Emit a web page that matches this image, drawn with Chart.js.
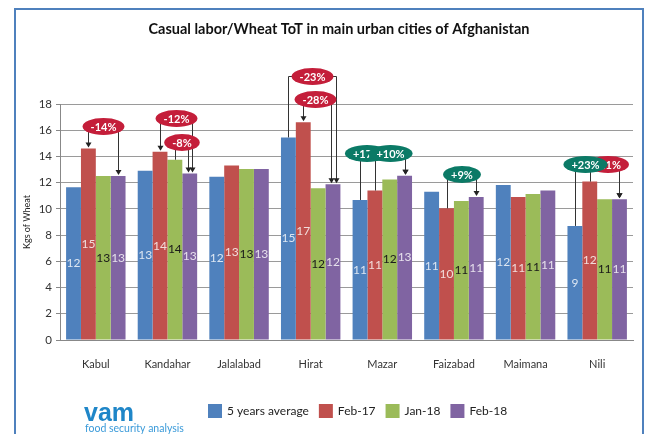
<!DOCTYPE html>
<html>
<head>
<meta charset="utf-8">
<script src="https://cdn.jsdelivr.net/npm/chart.js@4.4.1/dist/chart.umd.min.js"></script>
<style>
  html, body { margin: 0; padding: 0; background: #fff; }
  #wrap { position: relative; width: 648px; height: 434px; overflow: hidden; }
  #frame { position: absolute; left: 14px; top: 8px; width: 630px; height: 440px;
           border: 2px solid #4F81BD; box-sizing: border-box; }
  canvas { position: absolute; left: 0; top: 0; }
</style>
</head>
<body>
<div id="wrap">
  <div id="frame"></div>
  <canvas id="chart" width="648" height="434"></canvas>
</div>
<script>
// ciudades y valores (kg de trigo por día de trabajo)
const cities = ['Kabul', 'Kandahar', 'Jalalabad', 'Hirat', 'Mazar', 'Faizabad', 'Maimana', 'Nili'];
const avg5y  = [11.65, 12.9, 12.45, 15.45, 10.68, 11.3, 11.82, 8.7];
const feb17  = [14.6, 14.35, 13.3, 16.6, 11.4, 10.04, 10.9, 12.08];
const jan18  = [12.5, 13.75, 13.05, 11.57, 12.25, 10.6, 11.14, 10.73];
const feb18  = [12.5, 12.7, 13.05, 11.87, 12.53, 10.9, 11.4, 10.73];
const seriesNames = ['5 years average', 'Feb-17', 'Jan-18', 'Feb-18'];
const yMax = 18;
const yStep = 2;

// etiquetas de cambio (ciudad, serie origen -> serie destino)
const changeCity  = [0, 1, 1, 3, 3, 4, 4, 5, 7, 7];
const changeFrom  = [1, 1, 2, 1, 0, 0, 1, 1, 1, 0];
const changeTo    = [3, 3, 3, 3, 3, 3, 3, 3, 3, 3];
const changeText  = ['-14%', '-12%', '-8%', '-28%', '-23%', '+17%', '+10%', '+9%', '-11%', '+23%'];
const changeLevel = [16.3, 16.9, 15.1, 18.4, 20.15, 14.25, 14.25, 12.65, 13.4, 13.4];

const colors     = ['#4F81BD', '#C0504D', '#9BBB59', '#8064A2'];
const labelColor = ['#DCE6F2', '#F2DCDB', '#1A1A1A', '#E6E0EC'];
const FONT = 'Lato, "Liberation Sans", sans-serif';

// detalles de dibujo de las llamadas
const callout = [
  { arrowFrom: true,  dx: 0,   toShift: 0 },
  { arrowFrom: true,  dx: 0,   toShift: 2 },
  { arrowFrom: false, dx: 0,   toShift: -2 },
  { arrowFrom: true,  dx: -2,  toShift: -2 },
  { arrowFrom: false, dx: 0,   toShift: 3 },
  { arrowFrom: false, dx: -16, toShift: 0 },
  { arrowFrom: false, dx: 0,   toShift: 0 },
  { arrowFrom: false, dx: 0,   toShift: 0 },
  { arrowFrom: false, dx: 3,   toShift: 0 },
  { arrowFrom: false, dx: -12, toShift: 0 }
];

function arrowHead(ctx, x, y) {
  ctx.beginPath();
  ctx.moveTo(x - 3, y - 5);
  ctx.lineTo(x + 3, y - 5);
  ctx.lineTo(x, y);
  ctx.closePath();
  ctx.fill();
}

const extras = {
  id: 'extras',
  afterDatasetsDraw(chart) {
    const ctx = chart.ctx;
    const yScale = chart.scales.y;
    ctx.save();
    // valores redondeados dentro de las barras
    ctx.font = '12px ' + FONT;
    ctx.textAlign = 'center';
    ctx.textBaseline = 'middle';
    chart.data.datasets.forEach((ds, i) => {
      chart.getDatasetMeta(i).data.forEach((bar, j) => {
        ctx.fillStyle = labelColor[i];
        ctx.fillText(Math.round(ds.data[j]), bar.x, (bar.y + bar.base) / 2);
      });
    });

    // líneas de las llamadas
    ctx.strokeStyle = '#333';
    ctx.fillStyle = '#222';
    ctx.lineWidth = 1;
    const pos = changeText.map((t, k) => {
      const a = chart.getDatasetMeta(changeFrom[k]).data[changeCity[k]];
      const b = chart.getDatasetMeta(changeTo[k]).data[changeCity[k]];
      const ly = Math.round(yScale.getPixelForValue(changeLevel[k])) + 0.5;
      const xa = Math.round(a.x) + 0.5;
      const xb = Math.round(b.x + callout[k].toShift) + 0.5;
      ctx.beginPath();
      ctx.moveTo(xa, callout[k].arrowFrom ? a.y - 5 : a.y);
      ctx.lineTo(xa, ly);
      ctx.lineTo(xb, ly);
      ctx.lineTo(xb, b.y - 5);
      ctx.stroke();
      if (callout[k].arrowFrom) arrowHead(ctx, xa, a.y - 1);
      arrowHead(ctx, xb, b.y - 1);
      return { x: (xa + xb) / 2 + callout[k].dx, y: ly };
    });

    // elipses
    ctx.font = 'bold 11px ' + FONT;
    changeText.forEach((t, k) => {
      const w = ctx.measureText(t).width;
      const p = pos[k];
      ctx.beginPath();
      ctx.ellipse(p.x, p.y, w / 2 + 8, 8.5, 0, 0, Math.PI * 2);
      ctx.fillStyle = t[0] === '+' ? '#0B7A66' : '#C41E3A';
      ctx.fill();
      ctx.fillStyle = '#fff';
      ctx.fillText(t, p.x, p.y + 0.5);
    });
    ctx.restore();
  },
  afterDraw(chart) {
    const ctx = chart.ctx;
    ctx.save();
    // título
    ctx.fillStyle = '#111';
    ctx.font = 'bold 14.5px ' + FONT;
    ctx.textAlign = 'center';
    ctx.textBaseline = 'middle';
    ctx.fillText('Casual labor/Wheat ToT in main urban cities of Afghanistan', 339, 29);

    // leyenda
    ctx.font = '12px ' + FONT;
    ctx.textAlign = 'left';
    let x = 208;
    chart.data.datasets.forEach((ds) => {
      ctx.fillStyle = ds.backgroundColor;
      ctx.fillRect(x, 404, 14, 14);
      x += 19;
      ctx.fillStyle = '#222';
      ctx.fillText(ds.label, x, 411.5);
      x += ctx.measureText(ds.label).width + 10;
    });

    // logo vam
    ctx.fillStyle = '#1F86C8';
    ctx.font = 'bold 25px "Liberation Sans", sans-serif';
    ctx.textBaseline = 'alphabetic';
    ctx.fillText('vam', 84, 421);
    ctx.fillStyle = '#3A9AD9';
    ctx.font = '10.5px ' + FONT;
    ctx.fillText('food security analysis', 85, 432);
    ctx.restore();
  }
};

const chart = new Chart(document.getElementById('chart'), {
  type: 'bar',
  data: {
    labels: cities,
    datasets: [avg5y, feb17, jan18, feb18].map((d, i) => ({
      label: seriesNames[i],
      data: d,
      backgroundColor: colors[i],
      borderWidth: 0,
      categoryPercentage: 0.83,
      barPercentage: 1
    }))
  },
  options: {
    responsive: false,
    animation: false,
    layout: { padding: { left: 18, right: 15, top: 104, bottom: 0 } },
    plugins: {
      legend: { display: false },
      tooltip: { enabled: false },
      title: { display: false }
    },
    scales: {
      x: {
        grid: { display: false },
        border: { color: '#888', width: 1 },
        ticks: { color: '#333', font: { family: FONT, size: 11 }, padding: 10, maxRotation: 0 },
        afterFit(scale) { scale.height = 94; }
      },
      y: {
        min: 0,
        max: yMax,
        ticks: { stepSize: yStep, color: '#333', font: { family: FONT, size: 11.5 }, padding: 4 },
        grid: { color: '#9A9A9A', tickLength: 4, tickColor: '#888' },
        border: { color: '#888' },
        title: { display: true, text: 'Kgs of Wheat', color: '#222',
                 font: { family: FONT, size: 9 }, padding: { top: 4, bottom: 0 } },
        afterFit(scale) { scale.width = 42; }
      }
    }
  },
  plugins: [extras]
});
</script>
</body>
</html>
